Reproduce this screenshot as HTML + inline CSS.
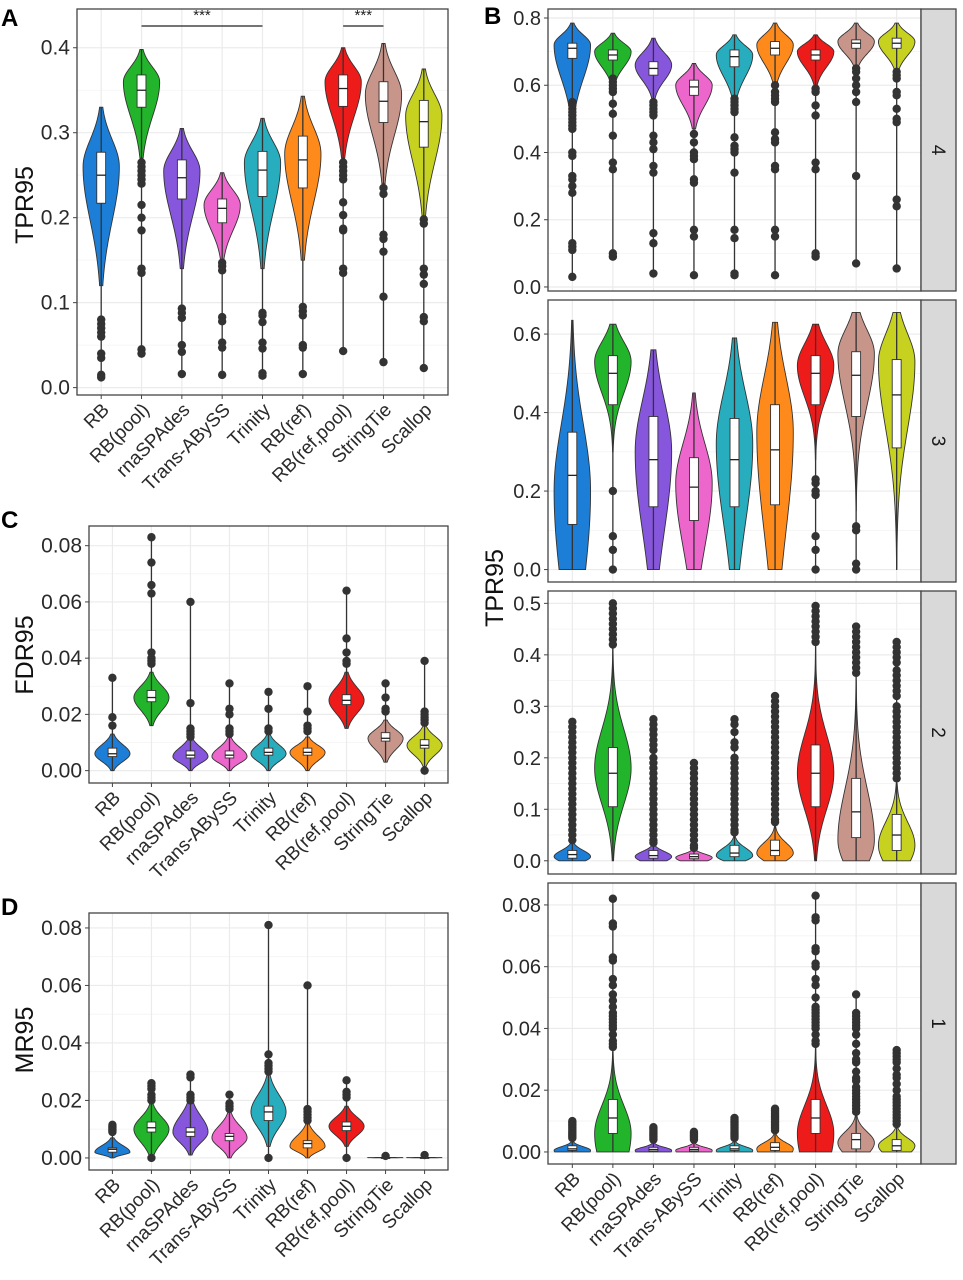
<!DOCTYPE html>
<html><head><meta charset="utf-8"><style>
html,body{margin:0;padding:0;background:#fff;}
svg{display:block;font-family:"Liberation Sans",Arial,sans-serif;}
</style></head><body>
<svg id="fig" width="963" height="1280" viewBox="0 0 963 1280" xmlns="http://www.w3.org/2000/svg"></svg>
<script>
// ---------- shared categories & colours ----------
const categories = ["RB","RB(pool)","rnaSPAdes","Trans-ABySS","Trinity","RB(ref)","RB(ref,pool)","StringTie","Scallop"];
const colors = ["#1c7ed6","#22b42a","#8656dc","#ec66cc","#27adbd","#ff8a1c","#ee1b1b","#c8958a","#c7d11f"];

// ---------- Panel A: TPR95 ----------
const aLo   = [0.12,0.27,0.14,0.15,0.14,0.15,0.27,0.24,0.20];
const aHi   = [0.33,0.398,0.305,0.253,0.317,0.343,0.40,0.405,0.375];
const aMode = [0.26,0.36,0.255,0.215,0.265,0.275,0.36,0.345,0.32];
const aQ1   = [0.217,0.330,0.222,0.194,0.225,0.235,0.331,0.312,0.283];
const aMed  = [0.250,0.350,0.247,0.211,0.256,0.268,0.352,0.337,0.313];
const aQ3   = [0.277,0.368,0.268,0.222,0.278,0.296,0.368,0.360,0.338];
const aOut  = [
 [0.08,0.075,0.07,0.065,0.06,0.04,0.035,0.015,0.012],
 [0.265,0.26,0.255,0.25,0.245,0.24,0.215,0.2,0.185,0.14,0.135,0.045,0.04],
 [0.093,0.088,0.082,0.05,0.042,0.016],
 [0.147,0.143,0.138,0.083,0.078,0.053,0.047,0.015],
 [0.088,0.085,0.077,0.053,0.046,0.017,0.014],
 [0.095,0.09,0.085,0.05,0.047,0.016],
 [0.265,0.26,0.255,0.25,0.245,0.218,0.203,0.187,0.185,0.14,0.135,0.043],
 [0.235,0.228,0.18,0.175,0.16,0.107,0.03],
 [0.198,0.193,0.14,0.133,0.122,0.083,0.078,0.023]];
const aTicks = [0,0.1,0.2,0.3,0.4];

// ---------- Panel C: FDR95 ----------
const cLo   = [0,0.016,0,0,0,0,0.015,0.003,0.0015];
const cHi   = [0.013,0.035,0.012,0.012,0.013,0.012,0.035,0.018,0.016];
const cMode = [0.006,0.026,0.005,0.005,0.006,0.0065,0.025,0.0115,0.009];
const cQ1   = [0.005,0.0245,0.0045,0.0045,0.0055,0.0055,0.0235,0.0105,0.008];
const cMed  = [0.006,0.026,0.0055,0.0055,0.0065,0.0065,0.025,0.0115,0.009];
const cQ3   = [0.008,0.0285,0.007,0.007,0.008,0.008,0.027,0.0135,0.011];
const cOut  = [
 [0.033,0.019,0.016],
 [0.083,0.074,0.066,0.063,0.042,0.04,0.039,0.038],
 [0.06,0.024,0.015,0.014,0.013,0.012],
 [0.031,0.022,0.02,0.015,0.014,0.013],
 [0.028,0.022,0.015,0.014],
 [0.03,0.021,0.016,0.015,0.014],
 [0.064,0.047,0.042,0.039,0.038],
 [0.031,0.026,0.022,0.021],
 [0.039,0.021,0.02,0.019,0.018,0.017,0]];
const cTicks = [0,0.02,0.04,0.06,0.08];

// ---------- Panel D: MR95 ----------
const dLo   = [0,0,0.001,0,0.004,0,0.004,0,0];
const dHi   = [0.007,0.019,0.021,0.016,0.029,0.012,0.018,0.0002,0.0002];
const dMode = [0.002,0.01,0.009,0.007,0.016,0.004,0.011,0.0001,0.0001];
const dQ1   = [0.002,0.009,0.0075,0.006,0.013,0.0035,0.0095,0,0];
const dMed  = [0.003,0.0105,0.009,0.0075,0.016,0.005,0.011,0,0];
const dQ3   = [0.0035,0.0125,0.0105,0.0085,0.018,0.006,0.0125,0,0];
const dOut  = [
 [0.0115,0.011,0.0105,0.01,0.0095,0.009],
 [0.026,0.025,0.024,0.022,0.021,0.02,0],
 [0.029,0.028,0.022,0.021,0.02],
 [0.022,0.019,0.018,0.017],
 [0.081,0.036,0.033,0.032,0.031,0.03,0],
 [0.06,0.017,0.016,0.015,0.014,0.013],
 [0.027,0.023,0.022,0.021,0],
 [0.0007],
 [0.001]];

// ---------- Panel B facet 4 ----------
const b4Lo   = [0.5,0.6,0.56,0.47,0.55,0.6,0.6,0.65,0.64];
const b4Hi   = [0.785,0.755,0.74,0.665,0.75,0.785,0.75,0.785,0.785];
const b4Mode = [0.72,0.70,0.66,0.60,0.69,0.72,0.70,0.73,0.73];
const b4Q1   = [0.68,0.675,0.63,0.57,0.655,0.69,0.675,0.71,0.71];
const b4Med  = [0.71,0.69,0.65,0.595,0.685,0.71,0.69,0.725,0.725];
const b4Q3   = [0.725,0.705,0.67,0.615,0.705,0.73,0.705,0.735,0.74];
const b4Out  = [
 [0.55,0.54,0.53,0.52,0.51,0.5,0.49,0.48,0.47,0.4,0.39,0.33,0.32,0.3,0.28,0.13,0.12,0.11,0.03],
 [0.62,0.61,0.6,0.59,0.58,0.545,0.515,0.45,0.37,0.35,0.1,0.09],
 [0.55,0.54,0.53,0.52,0.51,0.45,0.43,0.41,0.36,0.34,0.16,0.13,0.04],
 [0.455,0.43,0.4,0.39,0.38,0.32,0.31,0.17,0.15,0.035],
 [0.56,0.55,0.54,0.53,0.52,0.445,0.42,0.41,0.4,0.34,0.17,0.145,0.04,0.035],
 [0.6,0.58,0.57,0.56,0.55,0.46,0.44,0.43,0.36,0.35,0.17,0.15,0.035],
 [0.59,0.58,0.54,0.51,0.37,0.35,0.1,0.09],
 [0.65,0.64,0.62,0.6,0.58,0.55,0.33,0.07],
 [0.64,0.63,0.62,0.58,0.57,0.53,0.5,0.49,0.26,0.24,0.055]];

// ---------- Panel B facet 3 ----------
const b3Lo   = [0,0.30,0,0,0,0,0.28,0.15,0];
const b3Hi   = [0.635,0.625,0.56,0.45,0.59,0.63,0.625,0.655,0.655];
const b3Mode = [0.2,0.53,0.3,0.22,0.32,0.35,0.52,0.55,0.53];
const b3SLo  = [0.25,0.08,0.2,0.16,0.2,0.25,0.08,0.13,0.17];
const b3SHi  = [0.17,0.05,0.13,0.1,0.13,0.14,0.055,0.06,0.07];
const b3Q1   = [0.115,0.42,0.16,0.125,0.16,0.165,0.42,0.39,0.31];
const b3Med  = [0.24,0.5,0.28,0.21,0.28,0.305,0.5,0.495,0.445];
const b3Q3   = [0.35,0.545,0.39,0.285,0.385,0.42,0.545,0.555,0.535];
const b3Out  = [[],[0.2,0.085,0.05,0],[],[],[],[],[0.23,0.22,0.2,0.19,0.085,0.05,0],[0.11,0.1,0.015,0],[]];

// ---------- Panel B facet 2 ----------
const b2Lo   = [0,0,0,0,0,0,0,0,0];
const b2Hi   = [0.04,0.42,0.03,0.02,0.05,0.07,0.42,0.35,0.15];
const b2Mode = [0.008,0.18,0.008,0.006,0.01,0.015,0.17,0.04,0.03];
const b2SLo  = [0.01,0.07,0.01,0.008,0.01,0.015,0.07,0.05,0.04];
const b2SHi  = [0.012,0.075,0.01,0.007,0.015,0.02,0.075,0.1,0.045];
const b2Q1   = [0.005,0.105,0.005,0.004,0.008,0.01,0.105,0.045,0.02];
const b2Med  = [0.012,0.17,0.01,0.008,0.015,0.02,0.17,0.095,0.05];
const b2Q3   = [0.02,0.22,0.02,0.013,0.03,0.04,0.225,0.16,0.09];
const b2Out  = [
 [0.27,0.26,0.25,0.24,0.23,0.22,0.21,0.2,0.19,0.18,0.17,0.16,0.15,0.14,0.13,0.12,0.11,0.1,0.09,0.08,0.07,0.06,0.05,0.04],
 [0.5,0.49,0.48,0.47,0.46,0.45,0.44,0.43,0.42],
 [0.275,0.265,0.255,0.245,0.235,0.225,0.215,0.2,0.19,0.18,0.17,0.16,0.15,0.14,0.13,0.12,0.11,0.1,0.09,0.08,0.07,0.06,0.05,0.04,0.035],
 [0.19,0.18,0.17,0.16,0.15,0.14,0.13,0.12,0.11,0.1,0.09,0.08,0.07,0.06,0.05,0.04,0.03,0.025],
 [0.275,0.265,0.25,0.23,0.22,0.2,0.19,0.18,0.17,0.16,0.15,0.14,0.13,0.12,0.11,0.1,0.09,0.08,0.07,0.06,0.055],
 [0.32,0.31,0.3,0.29,0.28,0.27,0.26,0.25,0.24,0.23,0.22,0.21,0.2,0.19,0.18,0.17,0.16,0.15,0.14,0.13,0.12,0.11,0.1,0.09,0.08,0.075],
 [0.495,0.485,0.475,0.465,0.455,0.445,0.435,0.425],
 [0.455,0.445,0.435,0.425,0.415,0.405,0.395,0.385,0.375,0.365],
 [0.425,0.415,0.405,0.395,0.385,0.37,0.36,0.35,0.34,0.33,0.32,0.3,0.29,0.28,0.27,0.26,0.25,0.24,0.23,0.22,0.21,0.2,0.19,0.18,0.17,0.16]];
const b2Ticks = [0,0.1,0.2,0.3,0.4,0.5];

// ---------- Panel B facet 1 ----------
const b1Lo   = [0,0,0,0,0,0,0,0,0];
const b1Hi   = [0.004,0.033,0.003,0.003,0.004,0.006,0.035,0.012,0.008];
const b1Mode = [0.0005,0.006,0.0005,0.0005,0.0005,0.001,0.006,0.003,0.002];
const b1SLo  = [0.002,0.012,0.002,0.002,0.002,0.003,0.012,0.004,0.003];
const b1SHi  = [0.0012,0.009,0.001,0.001,0.0012,0.002,0.009,0.0035,0.0025];
const b1Q1   = [0.0005,0.006,0.0003,0.0003,0.0005,0.0005,0.006,0.001,0.0005];
const b1Med  = [0.001,0.011,0.0008,0.0008,0.001,0.0015,0.011,0.004,0.002];
const b1Q3   = [0.002,0.017,0.0015,0.0015,0.002,0.003,0.017,0.006,0.004];
const b1Out  = [
 [0.01,0.0095,0.009,0.0085,0.008,0.0075,0.007,0.0065,0.006,0.0055,0.005,0.0045],
 [0.082,0.074,0.073,0.063,0.062,0.056,0.054,0.051,0.049,0.047,0.045,0.044,0.043,0.042,0.041,0.04,0.038,0.036,0.035,0.034],
 [0.008,0.0075,0.007,0.0065,0.006,0.0055,0.005,0.0045,0.004],
 [0.0065,0.006,0.0055,0.005,0.0045,0.004],
 [0.011,0.0105,0.01,0.0095,0.009,0.0085,0.008,0.0075,0.007,0.0065,0.006,0.0055,0.005,0.0045],
 [0.014,0.0135,0.013,0.0125,0.012,0.0115,0.011,0.0105,0.01,0.0095,0.009,0.0085,0.008,0.0075,0.007],
 [0.083,0.076,0.075,0.066,0.065,0.061,0.06,0.056,0.054,0.05,0.047,0.046,0.045,0.044,0.043,0.042,0.041,0.04,0.038,0.036,0.035],
 [0.051,0.045,0.044,0.043,0.042,0.041,0.04,0.038,0.035,0.032,0.03,0.029,0.026,0.024,0.023,0.021,0.02,0.019,0.018,0.017,0.016,0.015,0.014,0.013],
 [0.033,0.032,0.031,0.03,0.029,0.027,0.025,0.024,0.022,0.02,0.018,0.017,0.016,0.015,0.014,0.013,0.012,0.011,0.01,0.009]];

const bTicks4 = [0,0.2,0.4,0.6,0.8];
const bTicks3 = [0,0.2,0.4,0.6];
const sigPairs = [[1,4],[6,7]];
const sigLevel = 0.4256;

// ---------- drawing ----------
const NS = "http://www.w3.org/2000/svg";
const svg = document.getElementById("fig");
function mk(tag, attrs, parent){
  const e = document.createElementNS(NS, tag);
  for (const k in attrs) e.setAttribute(k, attrs[k]);
  (parent||svg).appendChild(e);
  return e;
}
function panel(cfg){
  const g = mk("g", {});
  
  
  const [L,T,R,B] = cfg.box;
  const [y0,y1] = cfg.dom;
  const yS = v => B - (v - y0) / (y1 - y0) * (B - T);
  const step = (R - L) / 9.2;
  const xS = i => L + (0.6 + i) * step;
  mk("rect", {x:L,y:T,width:R-L,height:B-T,fill:"#fff"}, g);
  const tk = cfg.ticks;
  for (let i=0;i<tk.length-1;i++){
    const m=(tk[i]+tk[i+1])/2;
    mk("line",{x1:L,x2:R,y1:yS(m),y2:yS(m),stroke:"#f3f3f3","stroke-width":0.8},g);
  }
  const dtk = tk[1]-tk[0];
  if (yS(tk[tk.length-1]+dtk/2) > T) { const m=tk[tk.length-1]+dtk/2; mk("line",{x1:L,x2:R,y1:yS(m),y2:yS(m),stroke:"#f3f3f3","stroke-width":0.8},g); }
  for (const t of tk) mk("line",{x1:L,x2:R,y1:yS(t),y2:yS(t),stroke:"#ebebeb","stroke-width":1.2},g);
  categories.forEach((c,i)=> mk("line",{x1:xS(i),x2:xS(i),y1:T,y2:B,stroke:"#ebebeb","stroke-width":1.2},g));
  const d = cfg.data;
  const hw = 0.45*step, bw = 0.22*step;
  categories.forEach((c,i)=>{
    const vg = mk("g",{},g);
    
    
    const lo=d.lo[i], hi=d.hi[i], mo=d.mode[i];
    const sl = d.sLo ? d.sLo[i] : Math.max((mo-lo)/2.2,1e-6);
    const sh = d.sHi ? d.sHi[i] : Math.max((hi-mo)/2.2,1e-6);
    const N=70, pts=[];
    for (let k=0;k<=N;k++){
      const v = lo + (hi-lo)*k/N;
      const s = v<mo?sl:sh;
      const w = hw*Math.exp(-0.5*Math.pow((v-mo)/s,2));
      pts.push([v,w]);
    }
    let p = "";
    pts.forEach(([v,w],k)=>{ p += (k?"L":"M") + (xS(i)+w).toFixed(2)+","+yS(v).toFixed(2); });
    for (let k=pts.length-1;k>=0;k--){ const [v,w]=pts[k]; p += "L"+(xS(i)-w).toFixed(2)+","+yS(v).toFixed(2); }
    p += "Z";
    mk("path",{d:p,fill:colors[i],stroke:"#333","stroke-width":0.9},vg);
    const all = d.out[i].concat([lo,hi]);
    const mn = Math.min(...all), mx = Math.max(...all);
    mk("line",{x1:xS(i),x2:xS(i),y1:yS(mn),y2:yS(mx),stroke:"#333","stroke-width":1.3},vg);
    mk("rect",{x:xS(i)-bw/2,y:yS(d.q3[i]),width:bw,height:Math.max(yS(d.q1[i])-yS(d.q3[i]),0.5),fill:"#fff",stroke:"#333","stroke-width":0.9},vg);
    mk("line",{x1:xS(i)-bw/2,x2:xS(i)+bw/2,y1:yS(d.med[i]),y2:yS(d.med[i]),stroke:"#222","stroke-width":1.3},vg);
    d.out[i].forEach(o=>{
      const cc = mk("circle",{cx:xS(i),cy:yS(o),r:4.2,fill:"#333"},vg);
      
      
    });
  });
  mk("rect",{x:L,y:T,width:R-L,height:B-T,fill:"none",stroke:"#444","stroke-width":1.3},g);
  for (const t of tk){
    mk("line",{x1:L-4,x2:L,y1:yS(t),y2:yS(t),stroke:"#444","stroke-width":1},g);
    const tx = mk("text",{x:L-7,y:yS(t)+7,"text-anchor":"end","font-size":cfg.fs,fill:"#2a2a2a"},g);
    tx.textContent = t.toFixed(cfg.dec);
    
    
  }
  if (cfg.xlabels !== false){
    categories.forEach((c,i)=>{
      mk("line",{x1:xS(i),x2:xS(i),y1:B,y2:B+4,stroke:"#444","stroke-width":1},g);
      if (cfg.xlabels){
        const tx = mk("text",{transform:`translate(${xS(i)+9},${B+16}) rotate(-45)`,"text-anchor":"end","font-size":19,fill:"#2a2a2a"},g);
        tx.textContent = c;
        
        
      }
    });
  }
  if (cfg.strip){
    const sr = mk("rect",{x:R,y:T,width:35,height:B-T,fill:"#d9d9d9",stroke:"#444","stroke-width":1.3},g);
    
    
    const st = mk("text",{transform:`translate(${R+11},${(T+B)/2}) rotate(90)`,"text-anchor":"middle","font-size":19,fill:"#1a1a1a"},g);
    st.textContent = cfg.strip;
    
    
  }
  if (cfg.sig){
    sigPairs.forEach(([a,b])=>{
      mk("line",{x1:xS(a),x2:xS(b),y1:yS(sigLevel),y2:yS(sigLevel),stroke:"#222","stroke-width":1.3},g);
      const st = mk("text",{x:(xS(a)+xS(b))/2,y:T+11,"text-anchor":"middle","font-size":15,fill:"#222"},g);
      st.textContent = "***";
      
      
    });
  }
  return {xS,yS};
}
function pack(lo,hi,mode,q1,med,q3,out,sLo,sHi){return {lo,hi,mode,q1,med,q3,out,sLo,sHi};}

panel({name:"panel-a-tpr95",box:[77,9,448,395],dom:[-0.0087,0.4456],ticks:aTicks,dec:1,fs:21,xlabels:true,sig:true,
  data:pack(aLo,aHi,aMode,aQ1,aMed,aQ3,aOut)});
panel({name:"panel-c-fdr95",box:[89,526,448,783],dom:[-0.0044,0.0870],ticks:cTicks,dec:2,fs:21,xlabels:true,
  data:pack(cLo,cHi,cMode,cQ1,cMed,cQ3,cOut)});
panel({name:"panel-d-mr95",box:[89,913,448,1170],dom:[-0.0042,0.0852],ticks:cTicks,dec:2,fs:21,xlabels:true,
  data:pack(dLo,dHi,dMode,dQ1,dMed,dQ3,dOut)});
panel({name:"panel-b-facet-4",box:[548,9,921,291],dom:[-0.012,0.8268],ticks:bTicks4,dec:1,fs:20,xlabels:false,strip:"4",
  data:pack(b4Lo,b4Hi,b4Mode,b4Q1,b4Med,b4Q3,b4Out)});
panel({name:"panel-b-facet-3",box:[548,300,921,582],dom:[-0.0317,0.6868],ticks:bTicks3,dec:1,fs:20,xlabels:false,strip:"3",
  data:pack(b3Lo,b3Hi,b3Mode,b3Q1,b3Med,b3Q3,b3Out,b3SLo,b3SHi)});
panel({name:"panel-b-facet-2",box:[548,591,921,874],dom:[-0.0257,0.524],ticks:b2Ticks,dec:1,fs:20,xlabels:false,strip:"2",
  data:pack(b2Lo,b2Hi,b2Mode,b2Q1,b2Med,b2Q3,b2Out,b2SLo,b2SHi)});
panel({name:"panel-b-facet-1",box:[548,883,921,1164],dom:[-0.0039,0.0871],ticks:cTicks,dec:2,fs:20,xlabels:true,strip:"1",
  data:pack(b1Lo,b1Hi,b1Mode,b1Q1,b1Med,b1Q3,b1Out,b1SLo,b1SHi)});

function label(txt,x,y,opts,name){
  const t = mk("text",Object.assign({x:x,y:y},opts));
  t.textContent = txt;
  
  
}
label("TPR95",0,0,{transform:"translate(33,205) rotate(-90)","text-anchor":"middle","font-size":25,fill:"#111"},"y-axis-title-a");
label("FDR95",0,0,{transform:"translate(33,655) rotate(-90)","text-anchor":"middle","font-size":25,fill:"#111"},"y-axis-title-c");
label("MR95",0,0,{transform:"translate(33,1040) rotate(-90)","text-anchor":"middle","font-size":25,fill:"#111"},"y-axis-title-d");
label("TPR95",0,0,{transform:"translate(503,588) rotate(-90)","text-anchor":"middle","font-size":25,fill:"#111"},"y-axis-title-b");
label("A",1,26,{"font-size":24,"font-weight":"bold",fill:"#000"},"panel-letter-a");
label("B",484,24,{"font-size":24,"font-weight":"bold",fill:"#000"},"panel-letter-b");
label("C",1,528,{"font-size":24,"font-weight":"bold",fill:"#000"},"panel-letter-c");
label("D",1,915,{"font-size":24,"font-weight":"bold",fill:"#000"},"panel-letter-d");
</script>
</body></html>
